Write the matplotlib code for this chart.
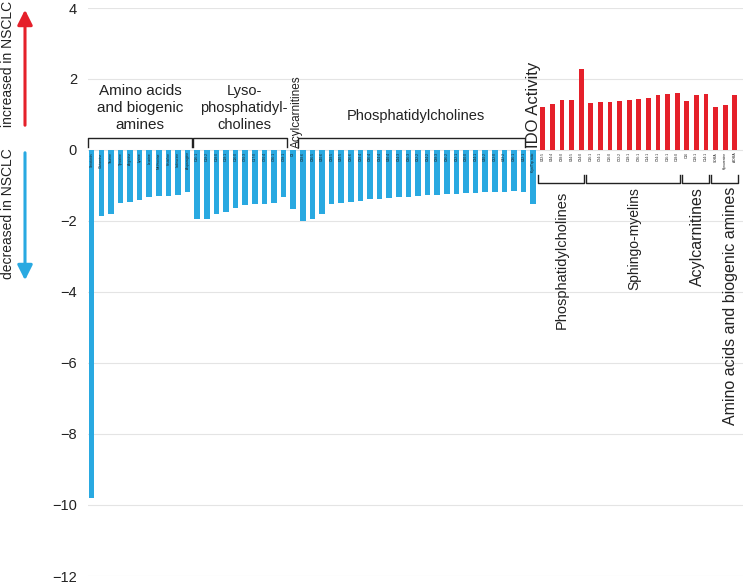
import matplotlib
matplotlib.use("Agg")
import matplotlib.pyplot as plt
import numpy as np

plt.rcParams['font.family'] = ['Liberation Sans', 'DejaVu Sans']

# ---- data ----
amino_labels = ["Serotonin", "Glutamine", "Taurine", "Tyrosine", "Arginine", "Lysine",
                "Leucine", "Methionine", "Histidine", "Isoleucine", "Asparagine"]
amino_values = [-9.80, -1.86, -1.79, -1.50, -1.47, -1.41, -1.33, -1.29, -1.29, -1.26, -1.19]

lyso_labels = ["C16:1", "C18:2", "C18:0", "C18:1", "C16:0", "C20:3", "C17:0", "C20:4", "C26:1", "C28:1"]
lyso_values = [-1.95, -1.93, -1.80, -1.74, -1.64, -1.56, -1.53, -1.52, -1.48, -1.31]

acyl_blue_labels = ["C3"]
acyl_blue_values = [-1.67]

pc_blue_labels = ["C38:6", "C36:5", "C40:6", "C38:5", "C40:5", "C36:6", "C38:4", "C36:4",
                  "C34:4", "C40:4", "C34:3", "C36:3", "C32:2", "C34:2", "C38:3", "C36:2",
                  "C32:1", "C30:0", "C34:1", "C40:2", "C32:0", "C42:2", "C36:1", "C42:1"]
pc_blue_values = [-1.99, -1.94, -1.79, -1.53, -1.50, -1.47, -1.43, -1.39, -1.38, -1.35,
                  -1.33, -1.31, -1.29, -1.27, -1.26, -1.25, -1.24, -1.22, -1.20, -1.19,
                  -1.19, -1.17, -1.16, -1.17]

ido_labels = ["Kyn/Trp ratio"]
ido_values = [-1.53]

pc_red_labels = ["C42:5", "C44:4", "C38:0", "C44:5", "C34:0"]
pc_red_values = [1.22, 1.29, 1.40, 1.40, 2.29]

sm_labels = ["C16:1", "C24:1", "C16:0", "C22:2", "C18:1", "C26:1", "C14:1", "C24:1", "C16:1", "C18:0"]
sm_values = [1.31, 1.34, 1.36, 1.38, 1.42, 1.44, 1.47, 1.54, 1.59, 1.61]

acyl_red_labels = ["C16", "C18:1", "C14:1"]
acyl_red_values = [1.38, 1.54, 1.58]

amino_red_labels = ["SDMA", "Kynurenine", "ADMA"]
amino_red_values = [1.22, 1.28, 1.55]

blue_groups = [amino_values, lyso_values, acyl_blue_values, pc_blue_values, ido_values]
blue_label_groups = [amino_labels, lyso_labels, acyl_blue_labels, pc_blue_labels, ido_labels]
red_groups = [pc_red_values, sm_values, acyl_red_values, amino_red_values]
red_label_groups = [pc_red_labels, sm_labels, acyl_red_labels, amino_red_labels]

BLUE = "#29A9E1"
RED = "#E5202A"

W, H = 743, 584
fig = plt.figure(figsize=(W / 100, H / 100), dpi=100)

L, R = 88, 743
T, B = 8, 576
ax = fig.add_axes([L / W, 1 - B / H, (R - L) / W, (B - T) / H])

px_per_unit = 9.597
first_px = 91.7
x0 = (L - first_px) / px_per_unit
x1 = x0 + (R - L) / px_per_unit
ax.set_xlim(x0, x1)
ax.set_ylim(-12.0, 4.0)

idx = 0
blue_ranges = []
for vals, labs in zip(blue_groups, blue_label_groups):
    xs = np.arange(idx, idx + len(vals))
    ax.bar(xs, vals, width=0.58, color=BLUE, zorder=3)
    for x, lab in zip(xs, labs):
        ax.text(x, -0.06, lab, rotation=90, ha='center', va='top', fontsize=2.4,
                color='#1a1a1a', zorder=4)
    blue_ranges.append((idx, idx + len(vals) - 1))
    idx += len(vals)

red_ranges = []
for vals, labs in zip(red_groups, red_label_groups):
    xs = np.arange(idx, idx + len(vals))
    ax.bar(xs, vals, width=0.5, color=RED, zorder=3)
    for x, lab in zip(xs, labs):
        ax.text(x, -0.06, lab, rotation=90, ha='center', va='top', fontsize=2.4,
                color='#1a1a1a', zorder=4)
    red_ranges.append((idx, idx + len(vals) - 1))
    idx += len(vals)

ax.set_yticks([4, 2, 0, -2, -4, -6, -8, -10, -12])
ax.set_yticklabels(["4", "2", "0", "\u22122", "\u22124", "\u22126", "\u22128", "\u221210", "\u221212"])
ax.tick_params(axis='y', length=0, pad=8, labelsize=10.5, colors='#222222')
ax.set_xticks([])
for y in [4, 2, 0, -2, -4, -6, -8, -10, -12]:
    ax.axhline(y, color='#e4e4e4', lw=0.8, zorder=1)
for s in ax.spines.values():
    s.set_visible(False)

lc = '#222222'

def top_bracket(a, b, y=0.34, drop=0.26):
    ax.plot([a, a, b, b], [y - drop, y, y, y - drop], color=lc, lw=1.0, zorder=5,
            clip_on=False)

def bottom_bracket(a, b, y=-0.93, rise=0.22):
    ax.plot([a, a, b, b], [y + rise, y, y, y + rise], color=lc, lw=1.0, zorder=5,
            clip_on=False)

a0, a1 = blue_ranges[0]
top_bracket(a0 - 0.4, a1 + 0.45)
l0, l1 = blue_ranges[1]
top_bracket(l0 - 0.45, l1 + 0.4)
p0, p1 = blue_ranges[3]
top_bracket(p0 - 0.55, p1 + 0.2)

ax.text((a0 + a1) / 2 + 0.02, 0.5, "Amino acids\nand biogenic\namines", ha='center', va='bottom',
        fontsize=11, linespacing=1.3, color=lc)
ax.text((l0 + l1) / 2 + 0.4, 0.5, "Lyso-\nphosphatidyl-\ncholines", ha='center', va='bottom',
        fontsize=10.5, linespacing=1.3, color=lc)
ax.text((p0 + p1) / 2 + 0.3, 0.95, "Phosphatidylcholines", ha='center', va='center',
        fontsize=10.5, color=lc)
c0, _ = blue_ranges[2]
ax.text(c0 + 0.4, 0.05, "Acylcarnitines", rotation=90, ha='center', va='bottom',
        fontsize=8.5, color=lc)
i0, _ = blue_ranges[4]
ax.text(i0, 0.05, "IDO Activity", rotation=90, ha='center', va='bottom',
        fontsize=12, color=lc)

red_names = ["Phosphatidylcholines", "Sphingo-myelins", "Acylcarnitines",
             "Amino acids and biogenic amines"]
red_sizes = [10.5, 10, 11.5, 11.5]
red_shift = [0.0, 0.0, 0.1, 0.6]
red_top = [-1.15, -1.04, -1.04, -1.04]
for (r0, r1), name, fs, sh, tp in zip(red_ranges, red_names, red_sizes, red_shift, red_top):
    bottom_bracket(r0 - 0.45, r1 + 0.3)
    ax.text((r0 + r1) / 2 + sh, tp, name, rotation=90, ha='center', va='top',
            fontsize=fs, color=lc)

def fpx(x, y):
    return (x / W, 1 - y / H)

fig.patches.append(matplotlib.patches.FancyArrowPatch(
    fpx(25, 128), fpx(25, 7), transform=fig.transFigure, arrowstyle='-|>,head_length=6,head_width=3',
    color=RED, lw=2.2, mutation_scale=1.5))
fig.patches.append(matplotlib.patches.FancyArrowPatch(
    fpx(25, 150), fpx(25, 283), transform=fig.transFigure, arrowstyle='-|>,head_length=6,head_width=3',
    color=BLUE, lw=2.2, mutation_scale=1.5))
fig.text(*fpx(8, 64), "increased in NSCLC", rotation=90, ha='center', va='center',
         fontsize=10, color=lc)
fig.text(*fpx(8, 214), "decreased in NSCLC", rotation=90, ha='center', va='center',
         fontsize=10, color=lc)

fig.savefig("out.png", dpi=100)
